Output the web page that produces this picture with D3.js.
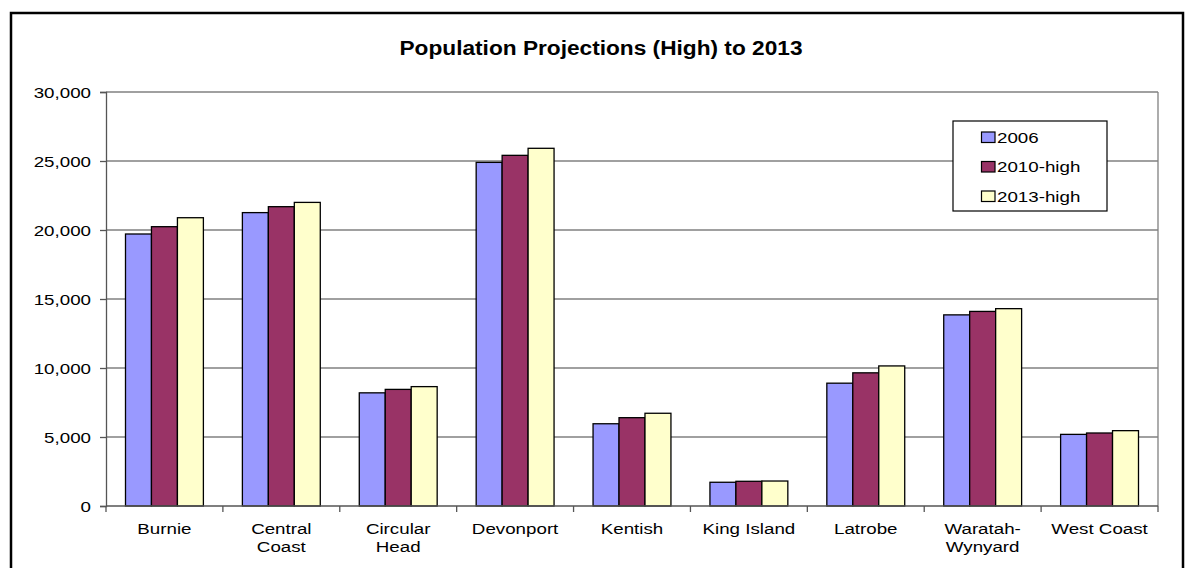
<!DOCTYPE html>
<html>
<head>
<meta charset="utf-8">
<script src="https://cdn.jsdelivr.net/npm/d3@7"></script>
<style>
  body { margin: 0; background: #fff; }
  svg text { font-family: "Liberation Sans", Arial, sans-serif; }
</style>
</head>
<body>
<svg id="chart" width="1186" height="568"></svg>
<script>
// data
var councils = ["Burnie", "Central Coast", "Circular Head", "Devonport", "Kentish",
                "King Island", "Latrobe", "Waratah-Wynyard", "West Coast"];
var seriesNames = ["2006", "2010-high", "2013-high"];
var pop2006 = [19710, 21260, 8200, 24900, 5960, 1720, 8900, 13850, 5190];
var pop2010 = [20240, 21690, 8450, 25410, 6400, 1790, 9650, 14100, 5290];
var pop2013 = [20890, 22000, 8650, 25920, 6720, 1810, 10150, 14300, 5460];
var yTicks = [0, 5000, 10000, 15000, 20000, 25000, 30000];
var colours = ["#9999FF", "#993366", "#FFFFCC"];

var svg = d3.select("#chart");

// text in the original is drawn a bit wide, so stretch horizontally
var SX = 1.25;
function wideText(parent, px, py, sx, txt) {
  return parent.append("text")
    .attr("transform", "scale(" + sx + ",1)")
    .attr("x", px / sx)
    .attr("y", py)
    .text(txt);
}

// outer chart border
svg.append("rect")
    .attr("x", 11).attr("y", 13)
    .attr("width", 1172).attr("height", 600)
    .attr("fill", "none")
    .attr("stroke", "#000")
    .attr("stroke-width", 2.5);

// title
wideText(svg, 601, 55, 1.08, "Population Projections (High) to 2013")
    .attr("text-anchor", "middle")
    .style("font-size", "21px")
    .style("font-weight", "bold");

var pLeft = 106, pRight = 1158, pTop = 92, pBottom = 506;

var x = d3.scaleBand()
    .domain(councils)
    .range([pLeft, pRight])
    .paddingInner(0)
    .paddingOuter(0);

var inner = d3.scaleBand()
    .domain(seriesNames)
    .range([19.5, x.bandwidth() - 19.5]);

var y = d3.scaleLinear()
    .domain([0, 30000])
    .range([pBottom, pTop]);

// gridlines
svg.append("g")
  .selectAll("line")
  .data(yTicks.slice(1))
  .enter()
  .append("line")
    .attr("x1", pLeft).attr("x2", pRight)
    .attr("y1", function(d){ return y(d) }).attr("y2", function(d){ return y(d) })
    .attr("stroke", "#808080")
    .attr("stroke-width", 1.3);

// right plot edge
svg.append("line")
    .attr("x1", pRight).attr("x2", pRight)
    .attr("y1", pTop).attr("y2", pBottom)
    .attr("stroke", "#808080")
    .attr("stroke-width", 1.3);

// bars
var rows = councils.map(function(c, i){
  return { name: c, vals: [pop2006[i], pop2010[i], pop2013[i]] };
});

var groups = svg.append("g")
  .selectAll("g")
  .data(rows)
  .enter()
  .append("g")
    .attr("transform", function(d){ return "translate(" + x(d.name) + ",0)" });

groups.selectAll("rect")
  .data(function(d){ return d.vals.map(function(v, j){ return { s: seriesNames[j], v: v, j: j } }) })
  .enter()
  .append("rect")
    .attr("x", function(d){ return inner(d.s) })
    .attr("y", function(d){ return y(d.v) })
    .attr("width", inner.bandwidth())
    .attr("height", function(d){ return y(0) - y(d.v) })
    .attr("fill", function(d){ return colours[d.j] })
    .attr("stroke", "#000")
    .attr("stroke-width", 1.3);

// y axis (labels drawn separately so they can be stretched)
var yAxis = svg.append("g")
    .attr("transform", "translate(" + pLeft + ",0)")
    .call(d3.axisLeft(y).tickValues(yTicks).tickSize(6).tickFormat(""));
yAxis.select(".domain").attr("stroke", "#555").attr("stroke-width", 1.3);
yAxis.selectAll(".tick line").attr("stroke", "#555").attr("stroke-width", 1.3);

var fmt = d3.format(",");
var yLab = svg.append("g");
yTicks.forEach(function(t){
  wideText(yLab, 91, y(t) + 6, SX, fmt(t))
    .attr("text-anchor", "end")
    .style("font-size", "15px");
});

// x axis
var xAxis = svg.append("g");
xAxis.append("line")
    .attr("x1", pLeft).attr("x2", pRight)
    .attr("y1", pBottom).attr("y2", pBottom)
    .attr("stroke", "#555").attr("stroke-width", 1.3);
xAxis.selectAll(".xt")
  .data(councils.map(function(c){ return x(c) }).concat([pRight]))
  .enter()
  .append("line")
    .attr("x1", function(d){ return d }).attr("x2", function(d){ return d })
    .attr("y1", pBottom).attr("y2", pBottom + 6)
    .attr("stroke", "#555").attr("stroke-width", 1.3);

var xLabels = {
  "Burnie": ["Burnie"], "Central Coast": ["Central", "Coast"],
  "Circular Head": ["Circular", "Head"], "Devonport": ["Devonport"],
  "Kentish": ["Kentish"], "King Island": ["King Island"], "Latrobe": ["Latrobe"],
  "Waratah-Wynyard": ["Waratah-", "Wynyard"], "West Coast": ["West Coast"]
};
councils.forEach(function(c){
  var cx = x(c) + x.bandwidth() / 2;
  xLabels[c].forEach(function(line, k){
    wideText(xAxis, cx, 534 + k * 18, SX, line)
      .attr("text-anchor", "middle")
      .style("font-size", "15px");
  });
});

// legend
var legend = svg.append("g");
legend.append("rect")
    .attr("x", 953).attr("y", 121)
    .attr("width", 154).attr("height", 90)
    .attr("fill", "#fff")
    .attr("stroke", "#000")
    .attr("stroke-width", 1.2);
seriesNames.forEach(function(s, i){
  var base = 143 + i * 29.5;
  legend.append("rect")
      .attr("x", 981.5).attr("y", base - 11)
      .attr("width", 13.5).attr("height", 10.5)
      .attr("fill", colours[i])
      .attr("stroke", "#000")
      .attr("stroke-width", 1.2);
  wideText(legend, 997, base, SX, s)
      .style("font-size", "15px");
});
</script>
</body>
</html>
